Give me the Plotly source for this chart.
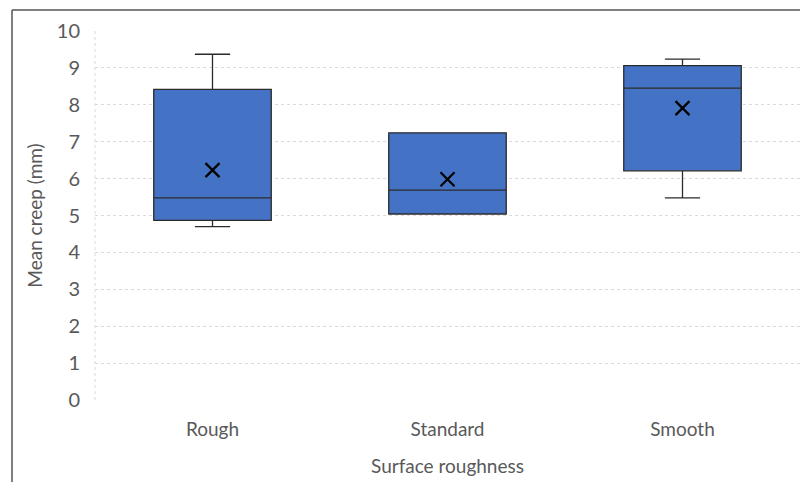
import plotly.graph_objects as go

categories = ["Rough", "Standard", "Smooth"]
lower_whisker = [4.70, 5.04, 5.48]
q1 = [4.87, 5.04, 6.21]
median = [5.48, 5.69, 8.45]
q3 = [8.42, 7.24, 9.06]
upper_whisker = [9.37, 7.24, 9.24]
means = [6.23, 5.98, 7.91]
y_ticks = [0, 1, 2, 3, 4, 5, 6, 7, 8, 9, 10]

font_family = "Lato, Open Sans, Liberation Sans, Arial, sans-serif"
grey = "#595959"

fig = go.Figure()
fig.add_trace(go.Box(
    x=categories,
    q1=q1, median=median, q3=q3,
    lowerfence=lower_whisker, upperfence=upper_whisker,
    fillcolor="#4472C4",
    line=dict(color="#2b2b2b", width=1.3),
    whiskerwidth=0.3,
    width=0.5,
    boxpoints=False,
    hoverinfo="skip",
    showlegend=False,
))
fig.add_trace(go.Scatter(
    x=categories, y=means, mode="markers",
    marker=dict(symbol="x-thin", size=14, line=dict(color="black", width=2.2), color="black"),
    showlegend=False, hoverinfo="skip",
))

fig.update_layout(
    width=800, height=482,
    margin=dict(l=95, r=0, t=31, b=82),
    paper_bgcolor="white", plot_bgcolor="white",
    font=dict(family=font_family, color=grey, size=19),
    xaxis=dict(
        type="category", range=[-0.5, 2.5],
        showgrid=False, zeroline=False, showline=False, ticks="",
        tickfont=dict(size=19, color=grey),
        ticklabelstandoff=16,
        title=dict(text="Surface roughness", font=dict(size=19, color=grey), standoff=20),
    ),
    yaxis=dict(
        range=[0, 10], tickvals=y_ticks,
        showgrid=True, gridcolor="#dadada", griddash="dot", gridwidth=1,
        zeroline=False, showline=False, ticks="",
        tickfont=dict(size=20, color=grey),
        ticklabelstandoff=14,
        title=dict(text="Mean creep (mm)", font=dict(size=19, color=grey), standoff=9),
    ),
    shapes=[
        dict(type="line", xref="paper", yref="paper", x0=0, x1=0, y0=0, y1=1,
             line=dict(color="#dadada", width=1, dash="dot"), layer="below"),
        dict(type="line", xref="paper", yref="paper", x0=(12 - 95) / 705, x1=(12 - 95) / 705,
             y0=-0.3, y1=(400 - 10) / 369, line=dict(color="#555555", width=1.5)),
        dict(type="line", xref="paper", yref="paper", x0=(12 - 95) / 705, x1=1.05,
             y0=(400 - 10) / 369, y1=(400 - 10) / 369, line=dict(color="#555555", width=1.5)),
    ],
)

fig.write_html(
    "out.html",
    config={"displayModeBar": False},
    post_script="document.body.style.margin='0';document.body.style.overflow='hidden';",
)
